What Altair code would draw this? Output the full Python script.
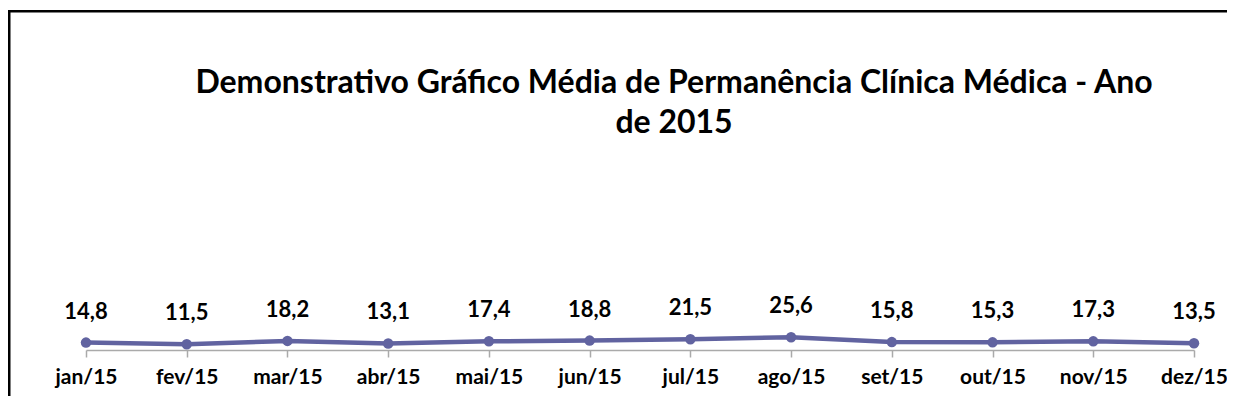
import altair as alt
import pandas as pd

months = ["jan/15", "fev/15", "mar/15", "abr/15", "mai/15", "jun/15",
          "jul/15", "ago/15", "set/15", "out/15", "nov/15", "dez/15"]
values = [14.8, 11.5, 18.2, 13.1, 17.4, 18.8, 21.5, 25.6, 15.8, 15.3, 17.3, 13.5]
title_lines = ["Demonstrativo Gráfico Média de Permanência Clínica Médica - Ano",
               "de 2015"]

df = pd.DataFrame({
    "mes": months,
    "valor": values,
    "rotulo": [f"{v:.1f}".replace(".", ",") for v in values],
})

FONT = "Lato"
LINE_COLOR = "#6163A0"

x_enc = alt.X("mes:N", sort=months, title=None,
              scale=alt.Scale(type="point", padding=0),
              axis=alt.Axis(labelAngle=0, labelFont=FONT, labelFontSize=21,
                            labelFontWeight="bold", labelColor="black",
                            labelPadding=9, domainColor="#aaaaaa", domainWidth=1.5,
                            tickColor="#aaaaaa", tickSize=7, tickWidth=1.5,
                            grid=False))
y_enc = alt.Y("valor:Q", scale=alt.Scale(domain=[0, 600]), axis=None)

base = alt.Chart(df)

line = base.mark_line(color=LINE_COLOR, strokeWidth=4.5,
                      point=alt.OverlayMarkDef(filled=True, color=LINE_COLOR,
                                               size=110, opacity=1)).encode(x=x_enc, y=y_enc)

labels = base.mark_text(font=FONT, fontSize=22, fontWeight="bold", color="black",
                        baseline="alphabetic", dy=-24).encode(
    x=x_enc, y=y_enc, text="rotulo:N")

title = alt.Chart(alt.Data(values=[{}])).mark_text(
    text=title_lines, font=FONT, fontSize=32, fontWeight="bold", color="black",
    align="center", baseline="alphabetic", lineHeight=40
).encode(x=alt.value(588), y=alt.value(43))

# chart frame (left and top edges; right/bottom lie outside the window)
frame_one = alt.Data(values=[{}])
frame_left = alt.Chart(frame_one).mark_rect(color="black").encode(
    x=alt.value(-78), x2=alt.value(-75.5), y=alt.value(-40), y2=alt.value(346))
frame_top = alt.Chart(frame_one).mark_rect(color="black").encode(
    x=alt.value(-78), x2=alt.value(1145), y=alt.value(-40), y2=alt.value(-37.5))

chart = alt.layer(frame_left, frame_top, line, labels, title).properties(
    width=1108, height=300,
    autosize=alt.AutoSizeParams(type="none"),
    padding={"left": 78, "top": 42, "right": 33, "bottom": 46},
    background="white",
).configure_view(strokeWidth=0)

chart.save("out.html", embed_options={"renderer": "svg", "actions": False})
